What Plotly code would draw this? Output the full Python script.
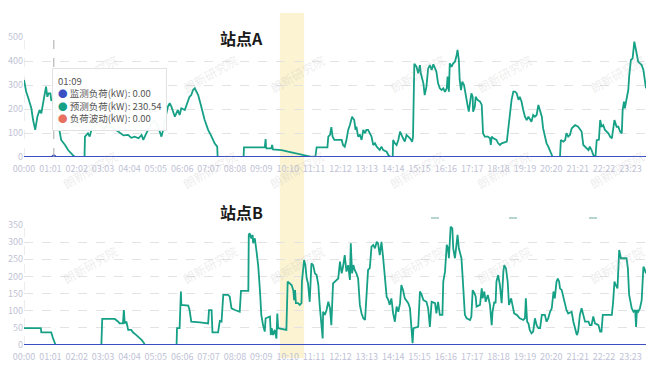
import plotly.graph_objects as go

# ---------------- data ----------------
tick_labels = ["00:00", "01:01", "02:02", "03:03", "04:04", "05:05", "06:06", "07:07",
               "08:08", "09:09", "10:10", "11:11", "12:12", "13:13", "14:14", "15:15",
               "16:16", "17:17", "18:18", "19:19", "20:20", "21:21", "22:22", "23:23"]
tick_step = 61  # minutes between category labels

# 站点A 预测负荷 (minute of day, kW)
a_min = [0, 5, 9, 13, 17, 21, 26, 31, 36, 40,
         44, 48, 51, 54, 57, 61, 63, 67, 69, 75,
         80, 86, 95, 102, 113, 118, 140, 141, 148, 152,
         156, 164, 170, 178, 185, 195, 205, 215, 222, 230,
         241, 248, 256, 265, 272, 276, 282, 287, 295, 302,
         310, 318, 322, 326, 333, 337, 341, 349, 356, 360,
         364, 372, 376, 380, 383, 387, 391, 395, 399, 403,
         407, 410, 414, 418, 426, 434, 441, 447, 448, 508,
         509, 557, 559, 560, 561, 572, 574, 576, 592, 596,
         611, 627, 638, 650, 665, 674, 677, 702, 704, 708,
         711, 714, 718, 735, 738, 742, 746, 750, 754, 759,
         764, 767, 769, 773, 777, 781, 785, 789, 792, 796,
         800, 804, 808, 812, 816, 823, 827, 831, 839, 843,
         848, 853, 854, 858, 862, 866, 870, 873, 877, 881,
         885, 889, 893, 898, 900, 903, 908, 912, 916, 918,
         924, 927, 931, 935, 939, 943, 947, 951, 954, 958,
         962, 966, 970, 974, 978, 980, 983, 985, 989, 993,
         997, 1001, 1003, 1006, 1008, 1011, 1014, 1018, 1022, 1026,
         1029, 1032, 1035, 1038, 1039, 1043, 1045, 1049, 1055, 1059,
         1062, 1066, 1073, 1078, 1080, 1082, 1086, 1093, 1097, 1101,
         1105, 1117, 1120, 1124, 1128, 1132, 1136, 1140, 1144, 1147,
         1151, 1155, 1159, 1163, 1167, 1174, 1178, 1182, 1186, 1190,
         1194, 1198, 1201, 1205, 1209, 1213, 1217, 1221, 1223, 1240,
         1242, 1248, 1252, 1255, 1259, 1263, 1267, 1271, 1275, 1282,
         1286, 1290, 1294, 1298, 1302, 1306, 1309, 1313, 1317, 1321,
         1322, 1325, 1330, 1333, 1336, 1340, 1344, 1352, 1356, 1360,
         1363, 1366, 1371, 1375, 1379, 1383, 1385, 1388, 1390, 1394,
         1398, 1400, 1404, 1408, 1412, 1415, 1418, 1421, 1425, 1429,
         1433, 1437, 1439]
a_val = [321, 272, 251, 231, 203, 154, 113, 168, 196, 182,
         224, 272, 293, 251, 265, 265, 237, 235, 230.54, 180,
         125, 71, 50, 29, 8, 0, 0, 85, 99, 85,
         113, 126, 150, 130, 115, 140, 120, 110, 100, 90,
         92, 80, 85, 78, 92, 71, 95, 112, 140, 154,
         126, 85, 113, 154, 210, 224, 210, 168, 196, 175,
         203, 196, 217, 238, 251, 258, 279, 286, 272, 258,
         231, 203, 182, 154, 113, 85, 57, 43, 0, 0,
         40, 40, 75, 40, 36, 36, 50, 32, 32, 29,
         22, 15, 11, 6, 1, 0, 40, 40, 85, 92,
         124, 85, 71, 71, 50, 43, 71, 113, 133, 168,
         154, 113, 126, 85, 92, 71, 113, 99, 113, 113,
         99, 85, 50, 57, 43, 29, 43, 29, 22, 8,
         0, 0, 71, 57, 50, 71, 106, 92, 78, 64,
         92, 85, 78, 64, 85, 388, 376, 349, 383, 349,
         307, 258, 293, 369, 383, 363, 386, 369, 356, 307,
         286, 279, 286, 272, 286, 335, 272, 390, 376, 390,
         397, 425, 446, 404, 321, 279, 314, 300, 251, 217,
         189, 238, 265, 251, 189, 210, 251, 238, 231, 217,
         99, 85, 85, 78, 50, 85, 78, 71, 57, 50,
         57, 64, 119, 168, 238, 272, 272, 265, 238, 251,
         231, 196, 168, 154, 168, 147, 175, 168, 175, 217,
         196, 168, 119, 85, 57, 43, 22, 8, 0, 0,
         71, 64, 71, 99, 85, 92, 119, 126, 133, 126,
         113, 106, 50, 43, 36, 29, 43, 29, 8, 0,
         0, 70, 72, 154, 126, 133, 113, 99, 85, 78,
         113, 154, 126, 126, 106, 99, 196, 231, 203, 238,
         279, 335, 404, 411, 481, 453, 425, 397, 390, 383,
         363, 293, 286]

# 站点B 预测负荷
b_min = [0, 39, 40, 63, 66, 69, 73, 179, 181, 210,
         214, 218, 221, 229, 231, 233, 237, 241, 248, 252,
         260, 268, 272, 278, 279, 353, 354, 360, 363, 364,
         380, 383, 387, 407, 426, 428, 434, 436, 449, 453,
         457, 461, 472, 476, 480, 488, 499, 502, 519, 520,
         522, 526, 529, 530, 534, 538, 542, 546, 549, 553,
         557, 559, 569, 571, 573, 576, 580, 584, 586, 588,
         607, 610, 615, 619, 623, 625, 627, 629, 634, 638,
         642, 643, 648, 651, 654, 657, 661, 665, 669, 673,
         677, 681, 684, 688, 691, 692, 696, 700, 704, 708,
         711, 715, 719, 727, 731, 735, 738, 742, 746, 750,
         754, 756, 759, 762, 765, 769, 773, 777, 781, 785,
         789, 792, 796, 800, 804, 808, 812, 816, 819, 823,
         827, 831, 835, 839, 843, 846, 850, 854, 858, 862,
         866, 870, 873, 877, 881, 889, 893, 897, 899, 901,
         912, 916, 920, 924, 931, 935, 939, 943, 951, 954,
         958, 962, 968, 970, 974, 978, 981, 983, 987, 991,
         993, 997, 1001, 1003, 1006, 1008, 1012, 1014, 1016, 1020,
         1024, 1032, 1035, 1038, 1042, 1045, 1047, 1055, 1059, 1061,
         1065, 1068, 1073, 1078, 1082, 1084, 1088, 1091, 1093, 1097,
         1101, 1105, 1109, 1111, 1115, 1119, 1122, 1124, 1127, 1130,
         1134, 1140, 1147, 1155, 1159, 1161, 1164, 1167, 1170, 1174,
         1178, 1182, 1186, 1190, 1194, 1198, 1205, 1209, 1213, 1217,
         1221, 1225, 1228, 1232, 1235, 1238, 1240, 1244, 1248, 1252,
         1255, 1259, 1267, 1271, 1275, 1279, 1282, 1286, 1290, 1294,
         1298, 1306, 1309, 1313, 1317, 1321, 1329, 1333, 1336, 1339,
         1360, 1363, 1366, 1369, 1373, 1377, 1379, 1381, 1394, 1397,
         1400, 1403, 1406, 1410, 1414, 1416, 1418, 1421, 1425, 1429,
         1431, 1433, 1435, 1438, 1439]
b_val = [49, 49, 37, 37, 24, 12, 0, 0, 76, 76,
         73, 68, 63, 63, 102, 63, 68, 44, 44, 37,
         29, 21, 15, 5, 0, 0, 49, 49, 156, 117,
         115, 102, 68, 66, 63, 102, 102, 37, 37, 70,
         68, 146, 146, 141, 107, 102, 97, 158, 158, 321,
         326, 311, 321, 297, 311, 272, 229, 156, 88, 58,
         39, 78, 83, 29, 49, 29, 44, 19, 92, 49,
         44, 185, 180, 175, 160, 131, 160, 122, 122, 117,
         122, 185, 248, 233, 194, 180, 126, 238, 233, 209,
         204, 175, 117, 58, 19, 97, 88, 102, 126, 107,
         58, 180, 185, 194, 243, 209, 228, 262, 214, 233,
         190, 297, 209, 233, 219, 209, 194, 117, 92, 78,
         73, 156, 219, 224, 287, 292, 282, 301, 297, 262,
         301, 253, 185, 141, 131, 117, 136, 92, 68, 112,
         97, 122, 175, 160, 136, 122, 107, 49, 5, 49,
         53, 156, 146, 131, 126, 107, 53, 126, 122, 92,
         126, 88, 88, 185, 214, 292, 282, 253, 345, 340,
         282, 253, 297, 321, 282, 272, 253, 214, 156, 88,
         78, 73, 83, 160, 151, 141, 112, 117, 165, 136,
         156, 126, 146, 117, 58, 97, 126, 122, 185, 204,
         175, 122, 214, 233, 224, 185, 117, 126, 136, 117,
         92, 88, 78, 73, 78, 136, 68, 63, 44, 34,
         39, 78, 58, 49, 49, 88, 88, 68, 78, 97,
         107, 156, 136, 185, 194, 185, 165, 160, 141, 117,
         102, 92, 97, 68, 44, 29, 39, 88, 107, 88,
         68, 68, 58, 58, 83, 63, 58, 39, 39, 88,
         88, 126, 185, 175, 165, 277, 262, 253, 253, 224,
         146, 122, 107, 97, 102, 53, 102, 97, 107, 131,
         185, 228, 224, 209, 209]

# 监测负荷 and 负荷波动 are zero all day
flat_min = [0, 1439]
monitor_val = [0, 0]
fluct_val = [0, 0]

band_start, band_end = 592, 648     # highlighted period (minutes)
tip_minute = 69                     # tooltip time 01:09

C_BLUE = "#3a50c2"
C_GREEN = "#16a086"
C_RED = "#e8705f"
TICK_C = "#bfc3d6"
FONT = "Noto Sans CJK SC, Noto Sans, sans-serif"

# ---------------- layout geometry ----------------
W, H = 659, 374
ML, MR, MT, MB = 24, 13, 37, 29
PW, PH = W - ML - MR, H - MT - MB


def px2x(px):
    return (px - ML) / PW


def py2y(py):
    return (H - MB - py) / PH


fig = go.Figure()
for xa, ya, mins, vals in [("x", "y", a_min, a_val), ("x2", "y2", b_min, b_val)]:
    fig.add_trace(go.Scatter(x=flat_min, y=fluct_val, xaxis=xa, yaxis=ya, mode="lines",
                             line=dict(color=C_RED, width=1.5), name="负荷波动(kW)",
                             showlegend=False, hoverinfo="skip"))
    fig.add_trace(go.Scatter(x=mins, y=vals, xaxis=xa, yaxis=ya, mode="lines",
                             line=dict(color=C_GREEN, width=1.8), name="预测负荷(kW)",
                             showlegend=False, hoverinfo="skip"))
    fig.add_trace(go.Scatter(x=flat_min, y=monitor_val, xaxis=xa, yaxis=ya, mode="lines",
                             line=dict(color=C_BLUE, width=1.8), name="监测负荷(kW)",
                             showlegend=False, hoverinfo="skip"))

# highlighted point of the tooltip
fig.add_trace(go.Scatter(x=[tip_minute], y=[monitor_val[0]], xaxis="x", yaxis="y", mode="markers",
                         marker=dict(color=C_BLUE, size=5), showlegend=False, hoverinfo="skip"))

tickvals = [i * tick_step for i in range(len(tick_labels))]
axis_x = dict(range=[0, 1439], tickvals=tickvals, ticktext=tick_labels, showgrid=False,
              zeroline=False, showline=False, ticks="outside", ticklen=3,
              tickcolor="rgba(0,0,0,0)", tickfont=dict(size=9, color=TICK_C, family=FONT),
              fixedrange=True, automargin=False)
axis_y = dict(showgrid=True, gridcolor="#e3e3e3", griddash="dash", gridwidth=1,
              zeroline=False, showline=False, ticks="", automargin=False,
              tickfont=dict(size=9, color=TICK_C, family=FONT))

fig.update_layout(
    width=W, height=H,
    margin=dict(l=ML, r=MR, t=MT, b=MB),
    paper_bgcolor="white", plot_bgcolor="white",
    showlegend=False,
    xaxis=dict(axis_x, domain=[0, 1], anchor="y"),
    yaxis=dict(axis_y, domain=[py2y(157), 1], range=[0, 500], dtick=100, anchor="x"),
    xaxis2=dict(axis_x, domain=[0, 1], anchor="y2"),
    yaxis2=dict(axis_y, domain=[0, py2y(225)], range=[0, 350], dtick=50, anchor="x2"),
    font=dict(family=FONT),
)

shapes = []
# highlighted band across both charts
shapes.append(dict(type="rect", xref="x", yref="paper", x0=band_start, x1=band_end,
                   y0=py2y(358), y1=py2y(13), fillcolor="rgba(248,232,165,0.5)",
                   line=dict(width=0), layer="below"))
# left dashed borders
for yr in ["y domain", "y2 domain"]:
    shapes.append(dict(type="line", xref="x", yref=yr, x0=0, x1=0, y0=0, y1=1,
                       line=dict(color="#dcdcdc", width=1, dash="dash"), layer="below"))
# tooltip axis pointer
shapes.append(dict(type="line", xref="x", yref="y", x0=tip_minute, x1=tip_minute, y0=0, y1=500,
                   line=dict(color="#a8a8a8", width=1, dash="dash")))
# legend-like small dashes over chart B
for cx in [435, 513, 593]:
    shapes.append(dict(type="line", xref="paper", yref="paper", x0=px2x(cx - 4), x1=px2x(cx + 4),
                       y0=py2y(218), y1=py2y(218), line=dict(color="#9fc6c0", width=1.5)))
fig.update_layout(shapes=shapes)

ann = []
# watermarks
for wy in [48, 170, 290]:
    for wx in [57, 177, 297, 417, 537, 650]:
        ann.append(dict(text="朗新研究院", xref="paper", yref="paper", x=px2x(wx), y=py2y(wy),
                        showarrow=False, textangle=-30,
                        font=dict(size=12, color="rgba(170,170,170,0.22)", family=FONT)))
# titles
ann.append(dict(text="<b>站点A</b>", xref="paper", yref="paper", x=px2x(241), y=py2y(24),
                showarrow=False, font=dict(size=16, color="#1a1a1a", family=FONT)))
ann.append(dict(text="<b>站点B</b>", xref="paper", yref="paper", x=px2x(241), y=py2y(212),
                showarrow=False, font=dict(size=16, color="#1a1a1a", family=FONT)))
# tooltip
tip_txt = (f"{tip_minute // 60:02d}:{tip_minute % 60:02d}<br>"
           f"<span style='color:{C_BLUE}'>●</span> 监测负荷(kW): {monitor_val[0]:.2f}<br>"
           f"<span style='color:{C_GREEN}'>●</span> 预测负荷(kW): {a_val[a_min.index(tip_minute)]:.2f}<br>"
           f"<span style='color:{C_RED}'>●</span> 负荷波动(kW): {fluct_val[0]:.2f}")
ann.append(dict(text=tip_txt, xref="paper", yref="paper", x=px2x(52), y=py2y(68),
                xanchor="left", yanchor="top", align="left", showarrow=False,
                bgcolor="rgba(255,255,255,0.96)", bordercolor="#e2e2e2", borderwidth=1,
                borderpad=5, font=dict(size=9.5, color="#555", family=FONT)))
fig.update_layout(annotations=ann)

fig.write_html("out.html", config={"displayModeBar": False},
               post_script="document.body.style.margin='0';")
